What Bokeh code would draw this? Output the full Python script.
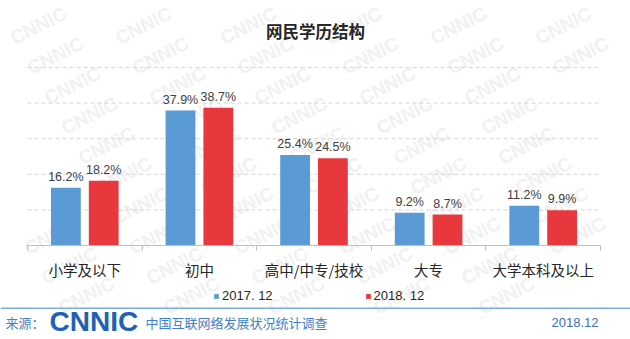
from bokeh.plotting import figure
from bokeh.models import (ColumnDataSource, FixedTicker, Label, Legend, LegendItem,
                          Range1d, BoxAnnotation)
from bokeh.transform import dodge
from bokeh.core.properties import value
from bokeh.embed import file_html
from bokeh.resources import INLINE

# ---- data ----
title_text = "网民学历结构"
categories = ["小学及以下", "初中", "高中/中专/技校", "大专", "大学本科及以上"]
series_names = ["2017. 12", "2018. 12"]
values_2017 = [16.2, 37.9, 25.4, 9.2, 11.2]
values_2018 = [18.2, 38.7, 24.5, 8.7, 9.9]
grid_ticks = [10, 20, 30, 40, 50]
source_label = "来源："
org_label = "CNNIC"
survey_label = "中国互联网络发展状况统计调查"
date_label = "2018.12"

# ---- layout / styles ----
W, H = 630, 339
PLOT_L, PLOT_R = 27, 600        # pixel extent of the category axis
PLOT_TOP, PLOT_BASE = 67, 245   # pixel rows of value 50 and value 0
Y_MAX = 50
BLUE = "#5B9BD5"
RED = "#E8383D"
CJK = "Noto Sans CJK SC"
LAT = "Liberation Sans"

n = len(categories)
ux = (PLOT_R - PLOT_L) / n
uy = (PLOT_BASE - PLOT_TOP) / Y_MAX
x_range = Range1d(-PLOT_L / ux, n + (W - PLOT_R) / ux)
y_range = Range1d(-(H - PLOT_BASE) / uy, Y_MAX + PLOT_TOP / uy)

p = figure(width=W, height=H, x_range=x_range, y_range=y_range,
           output_backend="svg", toolbar_location=None,
           min_border=0, min_border_left=0, min_border_right=0,
           min_border_top=0, min_border_bottom=0)
p.outline_line_color = None
p.yaxis.visible = False
p.xgrid.visible = False
p.ygrid.visible = False

# faint tiled watermark, kept fully inside the canvas
for r in range(10):
    y = 25 + r * 30
    x = 38 + (r * 17) % 105
    while x <= 592:
        p.add_layout(Label(x=x, y=y, x_units="canvas", y_units="canvas", text=org_label,
                           text_font=LAT, text_font_style="bold", text_font_size="19px",
                           text_color="#f1f1f1", angle=27, angle_units="deg",
                           text_align="center", text_baseline="middle", level="underlay"))
        x += 105

# dashed value gridlines across the category extent
p.segment(x0=[0] * len(grid_ticks), x1=[n] * len(grid_ticks), y0=grid_ticks, y1=grid_ticks,
          line_color="#d4d4d4", line_dash="4 3", line_width=1)

xs = [i + 0.5 for i in range(n)]
src = ColumnDataSource(dict(
    x=xs, v17=values_2017, v18=values_2018,
    l17=[f"{v:.1f}%" for v in values_2017],
    l18=[f"{v:.1f}%" for v in values_2018],
))

off = 0.165
r1 = p.vbar(x=dodge("x", -off), top="v17", width=0.26, source=src,
            fill_color=BLUE, line_color=None)
r2 = p.vbar(x=dodge("x", off), top="v18", width=0.26, source=src,
            fill_color=RED, line_color=None)

for col, lab, sign in (("v17", "l17", -1), ("v18", "l18", 1)):
    p.text(x=dodge("x", sign * off), y=col, text=lab, source=src,
           text_align="center", text_baseline="bottom", y_offset=-4,
           text_font=value(LAT), text_font_size="12.5px", text_color="#404040")

ax = p.xaxis[0]
ax.fixed_location = 0
ax.bounds = (0, n)
ax.ticker = FixedTicker(ticks=xs, minor_ticks=list(range(n + 1)))
ax.major_label_overrides = {x: c for x, c in zip(xs, categories)}
ax.axis_line_color = "#bfbfbf"
ax.major_tick_in = 0
ax.major_tick_out = 0
ax.minor_tick_in = 0
ax.minor_tick_out = 5
ax.minor_tick_line_color = "#bfbfbf"
ax.major_label_standoff = 8
ax.major_label_text_font = CJK
ax.major_label_text_font_size = "14.5px"
ax.major_label_text_color = "#262626"

legend = Legend(items=[LegendItem(label=series_names[0], renderers=[r1]),
                       LegendItem(label=series_names[1], renderers=[r2])],
                orientation="horizontal", location=(213, 36),
                glyph_width=6, glyph_height=6, label_standoff=3, spacing=92,
                padding=0, margin=0, label_text_font=LAT, label_text_font_size="13px",
                label_text_color="#262626", background_fill_alpha=0,
                border_line_color=None)
p.add_layout(legend, "center")

# title
p.add_layout(Label(x=W / 2, y=30, x_units="canvas", y_units="canvas", text=title_text,
                   text_font=CJK, text_font_style="bold", text_font_size="16.5px",
                   text_color="#262626", text_align="center", text_baseline="middle"))

# footer
p.add_layout(BoxAnnotation(left=0, right=W, top=307, bottom=308.5, left_units="canvas",
                           right_units="canvas", top_units="canvas", bottom_units="canvas",
                           fill_color="#7aaee0", fill_alpha=1, line_color=None))
p.add_layout(Label(x=5, y=322, x_units="canvas", y_units="canvas", text=source_label,
                   text_font=CJK, text_font_size="13px", text_color="#4f7fc0",
                   text_baseline="middle"))
p.add_layout(Label(x=49, y=321, x_units="canvas", y_units="canvas", text=org_label,
                   text_font=LAT, text_font_style="bold", text_font_size="28px",
                   text_color="#1d62b3", text_baseline="middle"))
p.add_layout(Label(x=145, y=322, x_units="canvas", y_units="canvas", text=survey_label,
                   text_font=CJK, text_font_size="13px", text_color="#3f7fc8",
                   text_baseline="middle"))
p.add_layout(Label(x=598, y=322, x_units="canvas", y_units="canvas", text=date_label,
                   text_font=LAT, text_font_size="13px", text_color="#3d6fb5",
                   text_align="right", text_baseline="middle"))

open("out.html", "w").write(file_html(p, INLINE))
